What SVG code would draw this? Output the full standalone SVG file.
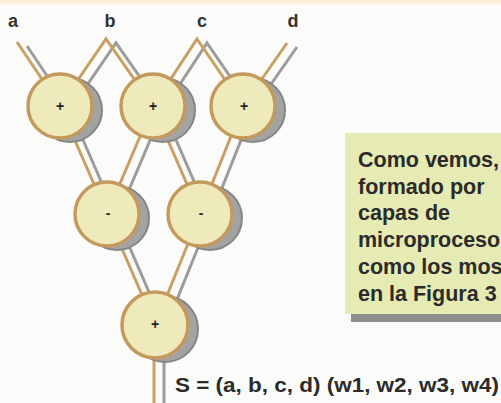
<svg xmlns="http://www.w3.org/2000/svg" width="501" height="403" viewBox="0 0 501 403">
<defs>
<style>
.wire{fill:none;stroke:#C9A064;stroke-width:3;stroke-linejoin:miter}
.wsh{fill:none;stroke:#9C9C9C;stroke-width:3;stroke-linejoin:miter}
.shadow{fill:#A3A3A3;stroke:#858585;stroke-width:2}
.cell{fill:#EFEABB;stroke:#C49A5C;stroke-width:3.5}
.sign{font-family:"Liberation Sans",Arial,sans-serif;font-weight:bold;font-size:14px;fill:#222;text-anchor:middle}
.lbl{font-family:"Liberation Sans",Arial,sans-serif;font-weight:bold;font-size:18px;fill:#333;text-anchor:middle}
.box{font-family:"Liberation Sans",Arial,sans-serif;font-weight:bold;font-size:21.5px;fill:#2B2B2B}
.frm{font-family:"Liberation Sans",Arial,sans-serif;font-weight:bold;font-size:21px;fill:#2B2B2B}
</style>
<linearGradient id="topband" x1="0" y1="0" x2="0" y2="1">
<stop offset="0" stop-color="#FBEBCB"/>
<stop offset="1" stop-color="#FBFBF9"/>
</linearGradient>
</defs>
<rect x="0" y="0" width="501" height="403" fill="#FBFBF9"/>
<rect x="0" y="0" width="501" height="6" fill="url(#topband)"/>

<g id="labels">
<text class="lbl" x="13" y="27">a</text>
<text class="lbl" x="110" y="27">b</text>
<text class="lbl" x="202" y="27">c</text>
<text class="lbl" x="293" y="27">d</text>
</g>

<g id="connectors">
<g transform="translate(10,4)">
<polyline class="wsh" points="17,42 60,106"/>
<polyline class="wsh" points="60,106 106,39 153,106"/>
<polyline class="wsh" points="153,106 197,39 243,106"/>
<polyline class="wsh" points="287,43 243,106"/>
<polyline class="wsh" points="60,106 107,214 153,106 200,214 243,106"/>
<polyline class="wsh" points="107,214 155,325 200,214"/>
<polyline class="wsh" points="154,325 154,403"/>
</g>
<polyline class="wire" points="17,42 60,106"/>
<polyline class="wire" points="60,106 106,39 153,106"/>
<polyline class="wire" points="153,106 197,39 243,106"/>
<polyline class="wire" points="287,43 243,106"/>
<polyline class="wire" points="60,106 107,214 153,106 200,214 243,106"/>
<polyline class="wire" points="107,214 155,325 200,214"/>
<polyline class="wire" points="154,325 154,403"/>
</g>

<g id="add1">
<circle class="shadow" cx="70" cy="110" r="32"/>
<circle class="cell" cx="60" cy="106" r="32"/>
<text class="sign" x="60" y="111">+</text>
</g>
<g id="add2">
<circle class="shadow" cx="163" cy="110" r="32"/>
<circle class="cell" cx="153" cy="106" r="32"/>
<text class="sign" x="153" y="111">+</text>
</g>
<g id="add3">
<circle class="shadow" cx="253" cy="110" r="32"/>
<circle class="cell" cx="243" cy="106" r="32"/>
<text class="sign" x="244" y="111">+</text>
</g>
<g id="sub1">
<circle class="shadow" cx="117" cy="218" r="32"/>
<circle class="cell" cx="107" cy="214" r="32"/>
<text class="sign" x="108" y="218">-</text>
</g>
<g id="sub2">
<circle class="shadow" cx="210" cy="218" r="32"/>
<circle class="cell" cx="200" cy="214" r="32"/>
<text class="sign" x="201" y="218">-</text>
</g>
<g id="add4">
<circle class="shadow" cx="165" cy="329" r="33"/>
<circle class="cell" cx="155" cy="325" r="33"/>
<text class="sign" x="155" y="329">+</text>
</g>

<g id="note">
<rect x="351" y="140" width="170" height="182" fill="#8E8E8E"/>
<rect x="345" y="133" width="170" height="181" fill="#E6EAB3"/>
<text class="box" x="358" y="167">Como vemos,</text>
<text class="box" x="358" y="193.7">formado por</text>
<text class="box" x="358" y="220.4">capas de</text>
<text class="box" x="358" y="247.1">microproceso</text>
<text class="box" x="358" y="273.8" font-size="20.5">como los mos</text>
<text class="box" x="358" y="300.5">en la Figura 3</text>
</g>

<g id="formula">
<text class="frm" x="175" y="392" textLength="324" lengthAdjust="spacingAndGlyphs">S = (a, b, c, d) (w1, w2, w3, w4)</text>
</g>
</svg>
